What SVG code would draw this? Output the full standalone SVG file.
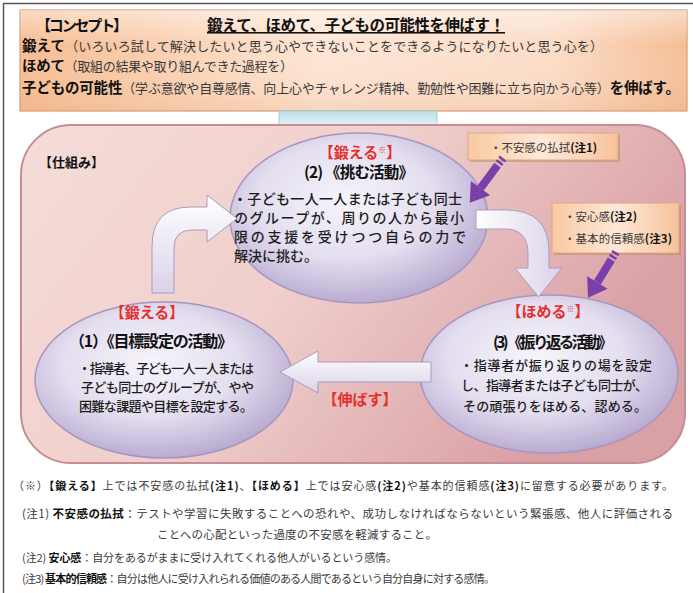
<svg xmlns="http://www.w3.org/2000/svg" width="693" height="593" viewBox="0 0 693 593">
<defs>
  <linearGradient id="gConcept" x1="0" y1="0" x2="1" y2="0">
    <stop offset="0" stop-color="#f6bb8f"/>
    <stop offset="0.45" stop-color="#fde5d4"/>
    <stop offset="0.8" stop-color="#fbdcc6"/>
    <stop offset="1" stop-color="#f5bd95"/>
  </linearGradient>
  <linearGradient id="gConceptV" x1="0" y1="0" x2="0" y2="1">
    <stop offset="0" stop-color="#ffffff" stop-opacity="0.45"/>
    <stop offset="0.35" stop-color="#ffffff" stop-opacity="0"/>
    <stop offset="1" stop-color="#e8a77a" stop-opacity="0.25"/>
  </linearGradient>
  <linearGradient id="gFrame" x1="0" y1="0" x2="1" y2="0.4">
    <stop offset="0" stop-color="#f5dcd8"/>
    <stop offset="0.5" stop-color="#f0cfcc"/>
    <stop offset="1" stop-color="#d9a0a6"/>
  </linearGradient>
  <linearGradient id="gBlue" x1="0" y1="0" x2="0" y2="1">
    <stop offset="0" stop-color="#b9dde8"/>
    <stop offset="1" stop-color="#e3f1f5"/>
  </linearGradient>
  <radialGradient id="gEll" cx="0.45" cy="0.4" r="0.62">
    <stop offset="0" stop-color="#f6f4fb"/>
    <stop offset="0.55" stop-color="#e4deef"/>
    <stop offset="1" stop-color="#b6a8cf"/>
  </radialGradient>
  <linearGradient id="gArrow" x1="0" y1="0" x2="0" y2="1">
    <stop offset="0" stop-color="#ffffff"/>
    <stop offset="1" stop-color="#dad2e8"/>
  </linearGradient>
  <linearGradient id="gArrowH" x1="0" y1="0" x2="1" y2="0">
    <stop offset="0" stop-color="#ffffff"/>
    <stop offset="1" stop-color="#dad2e8"/>
  </linearGradient>
  <linearGradient id="gNote" x1="0" y1="0" x2="1" y2="0">
    <stop offset="0" stop-color="#f9c9a2"/>
    <stop offset="0.5" stop-color="#fde8d8"/>
    <stop offset="1" stop-color="#f7c29a"/>
  </linearGradient>
  <marker id="purpleHead" markerUnits="userSpaceOnUse" markerWidth="20" markerHeight="24" refX="0" refY="12" orient="auto" overflow="visible">
    <path d="M0,0 L18,12 L0,24 Z" fill="#7b3fa8"/>
  </marker>
</defs>
<style>
  text { font-family: 'Noto Sans CJK JP', 'Noto Sans', sans-serif; }
  .b { font-weight: 700; fill: #111; }
  .r { fill: #3a3a3a; }
  .t { fill: #1c1c1c; font-weight: 500; }
  .red { font-weight: 700; fill: #e5312c; }
  .ell { fill: url(#gEll); stroke: #a596c0; stroke-width: 1.5; }
  .warrow { stroke: #a99bbd; stroke-width: 1; }
  .note { fill: url(#gNote); stroke: #e0a67c; stroke-width: 1; }
  .shadow { fill: #b98767; opacity: 0.55; }
  .parrow { stroke: #7b3fa8; stroke-width: 8; fill: none; marker-end: url(#purpleHead); stroke-dasharray: 2.5 2 2.5 2 200; }
</style>

<!-- page border -->
<path d="M3.5,593 V3.5 H693" fill="none" stroke="#555" stroke-width="1.5"/>

<!-- concept box -->
<g id="concept">
  <rect x="20" y="10" width="667" height="101" fill="url(#gConcept)" stroke="#d19c78" stroke-width="1.2"/>
  <rect x="20" y="10" width="667" height="101" fill="url(#gConceptV)"/>
  <text x="36" y="31" class="b" font-size="15" textLength="92">【コンセプト】</text>
  <text x="207" y="31" class="b" font-size="15.5" textLength="298" text-decoration="underline">鍛えて、ほめて、子どもの可能性を伸ばす！</text>
  <text x="22" y="51" font-size="13" textLength="581"><tspan class="b" font-size="14.5">鍛えて</tspan><tspan class="r">（いろいろ試して解決したいと思う心やできないことをできるようになりたいと思う心を）</tspan></text>
  <text x="22" y="71" font-size="13" textLength="271"><tspan class="b" font-size="14.5">ほめて</tspan><tspan class="r">（取組の結果や取り組んできた過程を）</tspan></text>
  <text x="22" y="93" font-size="13" textLength="658"><tspan class="b" font-size="14.5">子どもの可能性</tspan><tspan class="r">（学ぶ意欲や自尊感情、向上心やチャレンジ精神、勤勉性や困難に立ち向かう心等）</tspan><tspan class="b" font-size="14.5">を伸ばす。</tspan></text>
</g>

<!-- light blue strip -->
<rect x="279" y="111" width="158" height="14" fill="url(#gBlue)" stroke="#a6cbd6" stroke-width="1"/>

<!-- mechanism frame -->
<g id="frame">
  <rect x="21" y="125" width="664" height="338" rx="50" ry="50" fill="url(#gFrame)" stroke="#c58d95" stroke-width="2"/>
  <text x="39" y="167" class="b" font-size="13">【仕組み】</text>
</g>

<!-- ellipse nodes -->
<g id="node1">
  <ellipse cx="164" cy="380" rx="129" ry="78" class="ell"/>
  <text x="147" y="318" class="red" font-size="15" text-anchor="middle">【鍛える】</text>
  <text x="69" y="347" class="b" font-size="16" textLength="164">（1）《目標設定の活動》</text>
  <text x="78" y="373" class="t" font-size="13" textLength="176">・指導者、子ども一人一人または</text>
  <text x="81" y="392" class="t" font-size="13" textLength="173">子ども同士のグループが、やや</text>
  <text x="79" y="411" class="t" font-size="13" textLength="174">困難な課題や目標を設定する。</text>
</g>

<g id="node2">
  <ellipse cx="359" cy="218" rx="129" ry="85" class="ell"/>
  <text x="360" y="158" class="red" font-size="15" text-anchor="middle">【鍛える<tspan font-size="8" dy="-5">※</tspan><tspan dy="5">】</tspan></text>
  <text x="304" y="178" class="b" font-size="15.5" textLength="110">(2) 《挑む活動》</text>
  <text x="233" y="204" class="t" font-size="14" textLength="229">・子ども一人一人または子ども同士</text>
  <text x="234" y="223" class="t" font-size="14" textLength="230">のグループが、周りの人から最小</text>
  <text x="234" y="242" class="t" font-size="14" textLength="232">限の支援を受けつつ自らの力で</text>
  <text x="234" y="261" class="t" font-size="14">解決に挑む。</text>
</g>

<g id="node3">
  <ellipse cx="549" cy="374" rx="129" ry="79" class="ell"/>
  <text x="548" y="317" class="red" font-size="15" text-anchor="middle">【ほめる<tspan font-size="8" dy="-5">※</tspan><tspan dy="5">】</tspan></text>
  <text x="493" y="348" class="b" font-size="15.5" textLength="120">(3) 《振り返る活動》</text>
  <text x="460" y="370" class="t" font-size="13" textLength="192">・指導者が振り返りの場を設定</text>
  <text x="461" y="390" class="t" font-size="13" textLength="187">し、指導者または子ども同士が、</text>
  <text x="463" y="411" class="t" font-size="13" textLength="184">その頑張りをほめる、認める。</text>
</g>

<!-- side notes -->
<g id="noteA">
  <rect x="470" y="135" width="150" height="27" class="shadow"/>
  <rect x="468" y="133" width="150" height="27" class="note"/>
  <text x="490" y="152" font-size="11.5" textLength="107"><tspan class="r">・不安感の払拭</tspan><tspan class="b">(注1)</tspan></text>
</g>
<g id="noteB">
  <rect x="554" y="205" width="127" height="50" class="shadow"/>
  <rect x="552" y="203" width="127" height="50" class="note"/>
  <text x="564" y="221" font-size="11.5"><tspan class="r">・安心感</tspan><tspan class="b">(注2)</tspan></text>
  <text x="564" y="243" font-size="11.5" textLength="108"><tspan class="r">・基本的信頼感</tspan><tspan class="b">(注3)</tspan></text>
</g>

<!-- connectors -->
<g id="connectors">
  <path class="warrow" fill="url(#gArrow)" d="M152,293 L152,246 Q152,207 191,207 L207,207 L207,195 L237,218.5 L207,242 L207,230 L192,230 Q174,230 174,248 L174,293 Z"/>
  <path class="warrow" fill="url(#gArrowH)" d="M476,210 L506,210 Q549,210 549,252 L549,268 L562,268 L538.5,297 L515,268 L528,268 L528,254 Q528,229 505,229 L476,229 Z"/>
  <path class="warrow" fill="url(#gArrow)" d="M431,362 L318,362 L318,351 L280,372 L318,393 L318,382 L431,382 Z"/>
  <text x="360" y="405" class="red" font-size="15" text-anchor="middle">【伸ばす】</text>
  <line class="parrow" x1="503" y1="158" x2="480.5" y2="188.2"/>
  <line class="parrow" x1="616" y1="252" x2="597.4" y2="282.4"/>
</g>

<!-- footnotes -->
<g id="footnotes">
  <text x="13" y="490" font-size="11" textLength="660"><tspan class="r">（※）</tspan><tspan class="b">【鍛える】</tspan><tspan class="r">上では不安感の払拭</tspan><tspan class="b">(注1)</tspan><tspan class="r">、</tspan><tspan class="b">【ほめる】</tspan><tspan class="r">上では安心感</tspan><tspan class="b">(注2)</tspan><tspan class="r">や基本的信頼感</tspan><tspan class="b">(注3)</tspan><tspan class="r">に留意する必要があります。</tspan></text>
  <text x="22" y="518" font-size="11.5" textLength="651"><tspan class="r">(注1) </tspan><tspan class="b">不安感の払拭</tspan><tspan class="r">：テストや学習に失敗することへの恐れや、成功しなければならないという緊張感、他人に評価される</tspan></text>
  <text x="157" y="539" font-size="11.5" textLength="280" class="r">ことへの心配といった過度の不安感を軽減すること。</text>
  <text x="22" y="562" font-size="11" textLength="375"><tspan class="r">(注2) </tspan><tspan class="b">安心感</tspan><tspan class="r">：自分をあるがままに受け入れてくれる他人がいるという感情。</tspan></text>
  <text x="22" y="583" font-size="11" textLength="473"><tspan class="r">(注3) </tspan><tspan class="b">基本的信頼感</tspan><tspan class="r">：自分は他人に受け入れられる価値のある人間であるという自分自身に対する感情。</tspan></text>
</g>
</svg>
